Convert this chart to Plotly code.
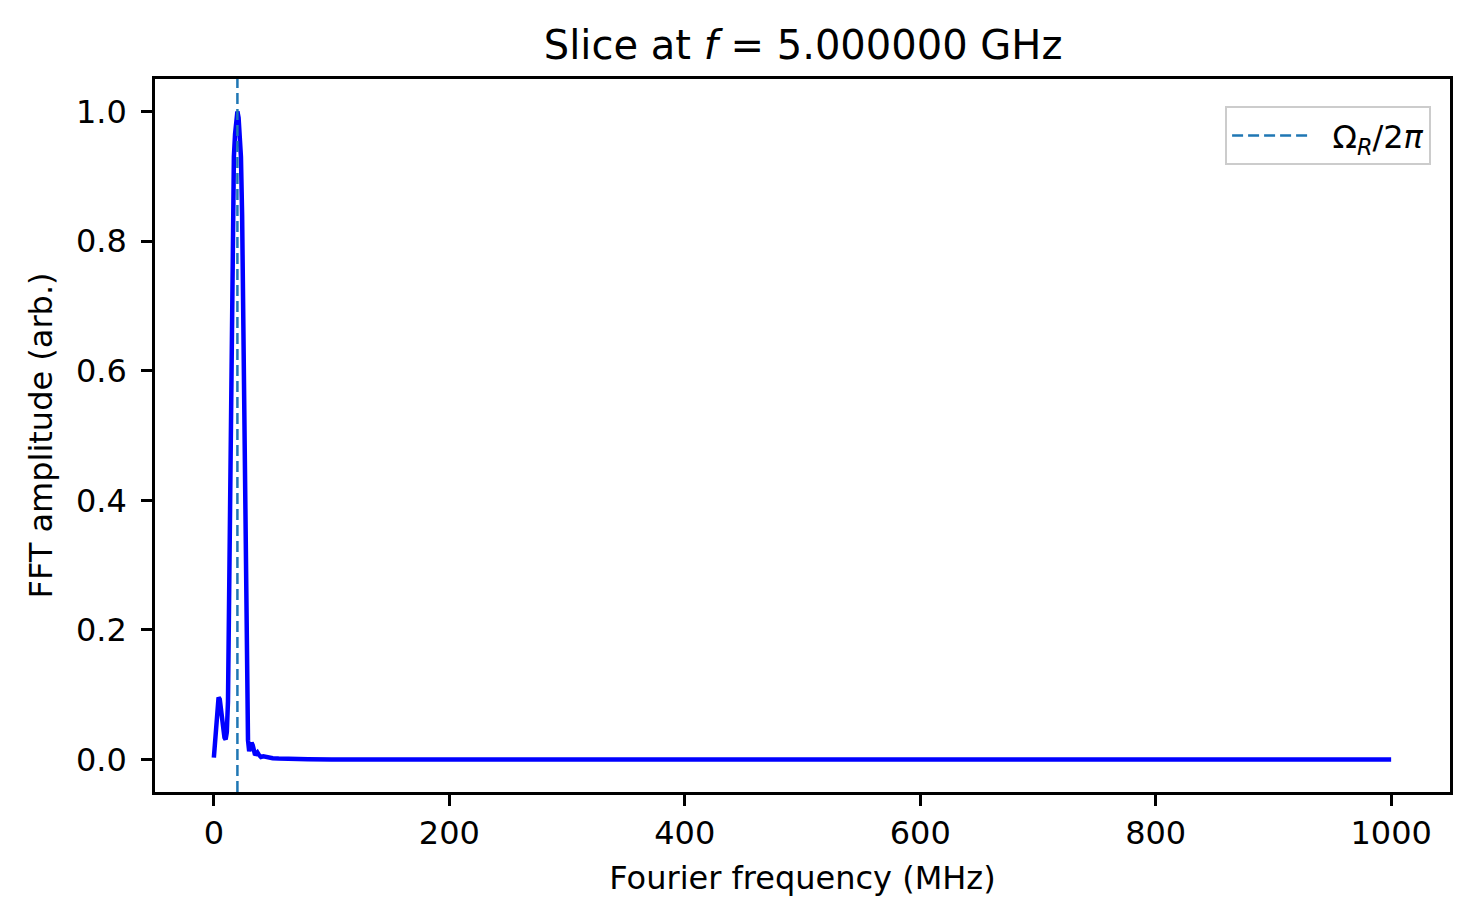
import plotly.graph_objects as go

# Values
freq_mhz = [0, 1, 2, 3, 4, 5, 6, 7, 8, 9, 10, 11, 12, 13, 14, 15, 16, 17, 18, 19,
            20, 21, 22, 23, 24, 25, 26, 27, 28, 29, 30, 31, 32, 33, 34, 35, 36, 37,
            38, 39, 40, 42, 44, 46, 50, 55, 60, 70, 80, 100, 150, 200, 300, 400,
            500, 600, 700, 800, 900, 1000]
amplitude = [0.003, 0.03, 0.065, 0.088, 0.096, 0.093, 0.08, 0.06, 0.043, 0.034,
             0.031, 0.042, 0.09, 0.25, 0.47, 0.68, 0.84, 0.93, 0.965, 0.99,
             1.0, 0.99, 0.965, 0.93, 0.84, 0.68, 0.47, 0.25, 0.09, 0.03,
             0.013, 0.02, 0.026, 0.022, 0.012, 0.007, 0.009, 0.011,
             0.008, 0.005, 0.004, 0.005, 0.004, 0.003, 0.002, 0.0015, 0.001,
             0.0008, 0.0005, 0.0003, 0.0002, 0.0002, 0.0001, 0.0001,
             0.0001, 0.0001, 0.0001, 0.0001, 0.0001, 0.0001]
rabi_mhz = 20.0
amp_range = [-0.05, 1.05]

fig = go.Figure()

fig.add_trace(go.Scatter(
    x=freq_mhz, y=amplitude, mode="lines",
    line=dict(color="#0000ff", width=4.5),
    showlegend=False,
))

# dashed marker for the Rabi frequency
fig.add_trace(go.Scatter(
    x=[rabi_mhz, rabi_mhz], y=amp_range, mode="lines",
    line=dict(color="#1f77b4", width=2.5, dash="11px,5px"),
    name="&nbsp;&nbsp;Ω<sub><i>R</i></sub>/2<i>π</i>",
))

axis_style = dict(
    showgrid=False, zeroline=False,
    showline=True, linecolor="black", linewidth=2.5, mirror=True,
    ticks="outside", ticklen=11, tickwidth=2.5, tickcolor="black",
    tickfont=dict(size=32, color="black"),
)

# page body adds ~8px offset, so figure is a bit smaller than the window
fig.update_layout(
    width=1467, height=916,
    paper_bgcolor="white", plot_bgcolor="white",
    font=dict(family="DejaVu Sans", color="black"),
    margin=dict(l=147, r=25, t=71, b=132),
    title=dict(text="Slice at <i>f</i> = 5.000000 GHz", x=0.542, xanchor="center",
               y=0.9596, yanchor="middle", font=dict(size=40)),
    xaxis=dict(range=[-50, 1050], dtick=200,
               title=dict(text="Fourier frequency (MHz)", font=dict(size=32), standoff=16),
               **axis_style),
    yaxis=dict(range=amp_range, dtick=0.2, tickformat=".1f", ticklabelstandoff=8,
               title=dict(text="FFT amplitude (arb.)", font=dict(size=32), standoff=14),
               **axis_style),
    legend=dict(x=0.9854, y=0.962, xanchor="right", yanchor="top",
                bgcolor="rgba(255,255,255,0.8)", bordercolor="#cccccc", borderwidth=2,
                font=dict(size=32), itemwidth=75),
)

fig.write_html("out.html")
